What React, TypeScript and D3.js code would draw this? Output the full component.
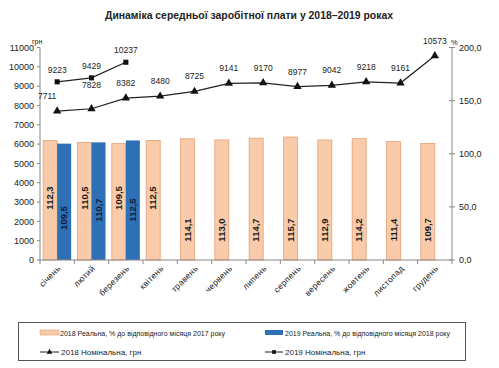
import * as d3 from "d3";

const months = ["січень", "лютий", "березень", "квітень", "травень", "червень", "липень", "серпень", "вересень", "жовтень", "листопад", "грудень"];
const real2018 = [112.3, 110.5, 109.5, 112.5, 114.1, 113.0, 114.7, 115.7, 112.9, 114.2, 111.4, 109.7];
const real2019 = [109.5, 110.7, 112.5];
const nominal2018 = [7711, 7828, 8382, 8480, 8725, 9141, 9170, 8977, 9042, 9218, 9161, 10573];
const nominal2019 = [9223, 9429, 10237];
const leftTicks = [0, 1000, 2000, 3000, 4000, 5000, 6000, 7000, 8000, 9000, 10000, 11000];
const rightTicks = [0, 50, 100, 150, 200];

const W = 499;
const H = 368;
const font = "'Liberation Sans', Arial, sans-serif";
const fmt = (v: number) => v.toFixed(1).replace(".", ",");

export default function App() {
  const x = d3.scaleBand<string>().domain(months).range([40, 452]).padding(0);
  const yL = d3.scaleLinear().domain([0, 11000]).range([260, 47.5]);
  const yR = d3.scaleLinear().domain([0, 200]).range([260, 47.5]);
  const bw = 14;
  const off = (x.bandwidth() - 2 * bw) / 2;
  const cx = (m: string) => (x(m) as number) + x.bandwidth() / 2;

  const line = d3
    .line<number>()
    .x((_, i) => cx(months[i]))
    .y((d) => yL(d));

  const tri = d3.symbol(d3.symbolTriangle, 30)() as string;
  const sq = d3.symbol(d3.symbolSquare, 26)() as string;

  return (
    <div style={{ position: "absolute", left: 0, top: 0 }}>
      <svg width={W} height={H} style={{ display: "block", background: "#fff" }} fontFamily={font}>
        <text x={249} y={19} textAnchor="middle" fontSize={11.5} fontWeight="bold" fill="#222"
          textLength={288} lengthAdjust="spacingAndGlyphs">
          Динаміка середньої заробітної плати у 2018–2019 роках
        </text>

        {/* left axis */}
        <line x1={40} x2={40} y1={yL(11000)} y2={260} stroke="#888" />
        {leftTicks.map((t) => (
          <g key={t}>
            <line x1={37} x2={40} y1={yL(t)} y2={yL(t)} stroke="#888" />
            <text x={34} y={yL(t) + 3.2} textAnchor="end" fontSize={9} fill="#222">
              {t}
            </text>
          </g>
        ))}
        <text x={32} y={44} fontSize={7} fill="#222">грн</text>

        {/* right axis */}
        <line x1={452} x2={452} y1={yR(200)} y2={260} stroke="#888" />
        {rightTicks.map((t) => (
          <g key={t}>
            <line x1={449} x2={455} y1={yR(t)} y2={yR(t)} stroke="#888" />
            <text x={459} y={yR(t) + 3.2} fontSize={9} fill="#222">
              {fmt(t)}
            </text>
          </g>
        ))}
        <text x={451} y={45} fontSize={7.5} fill="#222">%</text>

        {/* bars */}
        {real2018.map((v, i) => (
          <rect key={"a" + i} x={(x(months[i]) as number) + off} y={yR(v)} width={bw} height={260 - yR(v)}
            fill="#F9CBAA" stroke="#E39F74" strokeWidth={0.8} />
        ))}
        {real2019.map((v, i) => (
          <rect key={"b" + i} x={(x(months[i]) as number) + off + bw} y={yR(v)} width={bw} height={260 - yR(v)}
            fill="#2E70B5" />
        ))}
        {real2018.map((v, i) => {
          const px = (x(months[i]) as number) + off + bw / 2;
          const py = i < 4 ? 198 : 230;
          return (
            <text key={"la" + i} transform={`translate(${px + 3.3},${py}) rotate(-90)`} textAnchor="middle"
              fontSize={9.5} fontWeight="bold" fill="#1a1a1a">{fmt(v)}</text>
          );
        })}
        {real2019.map((v, i) => {
          const px = (x(months[i]) as number) + off + bw * 1.5;
          return (
            <text key={"lb" + i} transform={`translate(${px + 3.3},${i === 0 ? 218 : 210}) rotate(-90)`} textAnchor="middle"
              fontSize={9.5} fontWeight="bold" fill="#0d1f3a">{fmt(v)}</text>
          );
        })}

        {/* bottom axis */}
        <line x1={40} x2={452} y1={260} y2={260} stroke="#888" strokeWidth={1.2} />
        {months.map((m) => (
          <line key={m} x1={x(m) as number} x2={x(m) as number} y1={260} y2={264} stroke="#888" />
        ))}
        <line x1={452} x2={452} y1={260} y2={264} stroke="#888" />
        {months.map((m) => (
          <text key={"t" + m} transform={`translate(${cx(m) + 4},${269}) rotate(-45)`} textAnchor="end"
            fontSize={8.5} letterSpacing={0.3} fill="#222">{m}</text>
        ))}

        {/* lines */}
        <path d={line(nominal2018) as string} fill="none" stroke="#222" strokeWidth={1.2} />
        <path d={line(nominal2019) as string} fill="none" stroke="#222" strokeWidth={1.2} />
        {nominal2018.map((v, i) => (
          <g key={"n" + i}>
            <path d={tri} transform={`translate(${cx(months[i])},${yL(v)})`} fill="#111" />
            <text x={cx(months[i]) - (i === 0 ? 10 : 0)} y={yL(v) - (i === 1 ? 21 : 12)} textAnchor="middle"
              fontSize={8.5} fill="#222">{v}</text>
          </g>
        ))}
        {nominal2019.map((v, i) => (
          <g key={"m" + i}>
            <path d={sq} transform={`translate(${cx(months[i])},${yL(v)})`} fill="#111" />
            <text x={cx(months[i])} y={yL(v) - 9} textAnchor="middle" fontSize={8.5} fill="#222">{v}</text>
          </g>
        ))}

        {/* legend */}
        <rect x={18.5} y={322.5} width={447} height={38} fill="#fff" stroke="#555" />
        <rect x={40} y={330} width={19} height={5} fill="#F9CBAA" stroke="#E39F74" strokeWidth={0.6} />
        <text x={60} y={336} fontSize={8} fill="#222" textLength={165} lengthAdjust="spacingAndGlyphs">
          2018 Реальна, % до відповідного місяця 2017 року
        </text>
        <rect x={265} y={330} width={18} height={5} fill="#2E70B5" />
        <text x={285} y={336} fontSize={8} fill="#222" textLength={165} lengthAdjust="spacingAndGlyphs">
          2019 Реальна, % до відповідного місяця 2018 року
        </text>
        <line x1={40} x2={59} y1={352} y2={352} stroke="#222" />
        <path d={d3.symbol(d3.symbolTriangle, 14)() as string} transform="translate(49.5,352)" fill="#111" />
        <text x={61} y={355} fontSize={8} fill="#222">2018 Номінальна, грн</text>
        <line x1={265} x2={283} y1={352} y2={352} stroke="#222" />
        <path d={d3.symbol(d3.symbolSquare, 14)() as string} transform="translate(274,352)" fill="#111" />
        <text x={285} y={355} fontSize={8} fill="#222">2019 Номінальна, грн</text>
      </svg>
    </div>
  );
}
